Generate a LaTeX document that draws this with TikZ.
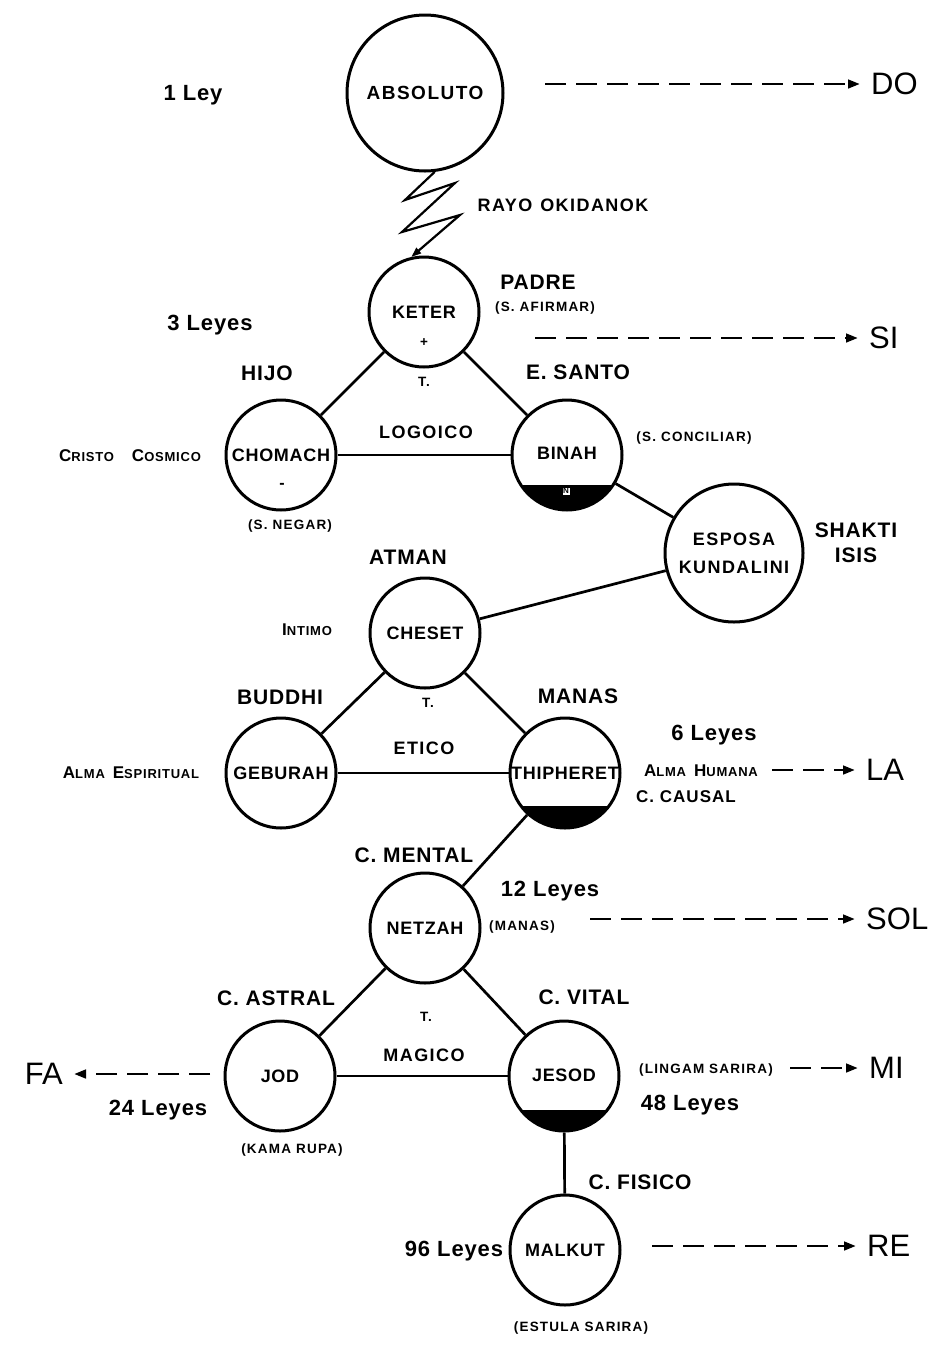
\documentclass[tikz,border=0pt]{standalone}
\usepackage{fontspec}
\setmainfont{Liberation Sans}[LetterSpace=4]
\newfontfamily\notefont{Liberation Sans}
\usetikzlibrary{arrows.meta}
\newcommand\fsc[2]{#1{\fontsize{13}{13}\selectfont #2}}
\begin{document}
\begin{tikzpicture}[x=1pt,y=-1pt,
  sef/.style={circle, draw, line width=3pt, minimum size=110pt, inner sep=0pt,
    font=\bfseries\fontsize{18}{18}\selectfont},
  head/.style={inner sep=0pt, font=\bfseries\fontsize{21}{21}\selectfont},
  leyes/.style={inner sep=0pt, font=\bfseries\fontsize{22}{22}\selectfont},
  mid/.style={inner sep=0pt, font={\bfseries\fontsize{18}{18}\selectfont\addfontfeature{LetterSpace=8}}},
  sm/.style={inner sep=0pt, font={\bfseries\fontsize{13.5}{13.5}\selectfont\addfontfeature{LetterSpace=9}}},
  smc/.style={inner sep=0pt, font={\bfseries\fontsize{17}{17}\selectfont\addfontfeature{LetterSpace=6}}},
  note/.style={inner sep=0pt, font=\notefont\fontsize{31}{31}\selectfont},
  link/.style={line width=2.7pt},
  octave/.style={line width=2.8pt, dash pattern=on 21pt off 10pt, shorten >=11pt,
    -{Triangle[length=12pt,width=8.5pt]}},
]
\useasboundingbox (0,0) rectangle (932,1353);

% black segments
\begin{scope}
  \clip (567,455) circle[radius=55pt];
  \fill (500,485) rectangle (640,520);
\end{scope}
\begin{scope}
  \clip (565,773) circle[radius=55pt];
  \fill (500,806) rectangle (640,840);
\end{scope}
\begin{scope}
  \clip (564,1076) circle[radius=55pt];
  \fill (500,1110) rectangle (640,1140);
\end{scope}

% sefirot
\node[sef, minimum size=156pt, font=\bfseries\fontsize{19}{19}\selectfont\addfontfeature{LetterSpace=8}] (abs) at (425,93) {ABSOLUTO};
\node[sef] (keter) at (424,312) {KETER};
\node[sef] (chomach) at (281,455) {CHOMACH};
\node[sef] (binah) at (567,455) {\raisebox{3pt}{BINAH}};
\node[sef, minimum size=138pt, align=center, font={\bfseries\fontsize{18}{28}\selectfont\addfontfeature{LetterSpace=8}}] (esposa) at (734,553) {ESPOSA\\KUNDALINI};
\node[sef] (cheset) at (425,633) {CHESET};
\node[sef] (geburah) at (281,773) {GEBURAH};
\node[sef] (thiph) at (565,773) {THIPHERET};
\node[sef] (netzah) at (425,928) {NETZAH};
\node[sef] (jod) at (280,1076) {JOD};
\node[sef] (jesod) at (564,1076) {\raisebox{2pt}{JESOD}};
\node[sef] (malkut) at (565,1250) {MALKUT};

\node[fill=white, draw, line width=0.6pt, inner sep=1.2pt, font=\bfseries\fontsize{8}{8}\selectfont] (nmark) at (566,491) {N};
\node[sm] (plus) at (424,343) {+};
\node[sm, font=\bfseries\fontsize{16}{16}\selectfont] (minus) at (282,486) {-};

% connectors
\draw[link] (keter) -- (chomach);
\draw[link] (keter) -- (binah);
\draw[link] (chomach) -- (binah);
\draw[link] (binah) -- (esposa);
\draw[link] (esposa) -- (cheset);
\draw[link] (cheset) -- (geburah);
\draw[link] (cheset) -- (thiph);
\draw[link] (geburah) -- (thiph);
\draw[link] (thiph) -- (netzah);
\draw[link] (netzah) -- (jod);
\draw[link] (netzah) -- (jesod);
\draw[link] (jod) -- (jesod);
\draw[link] (jesod) -- (malkut);

% lightning ray
\draw[line width=2.2pt, line join=miter, -{Triangle[length=10pt,width=7pt]}]
  (abs.-83) -- (405,200) -- (455,183) -- (402,232) -- (460,215) -- (keter.103);

% octaves
\node[note, anchor=west] (do) at (871,84) {DO};
\coordinate (do0) at (545,84);
\draw[octave] (do0) -- (do.west);
\node[note, anchor=west] (si) at (869,338) {SI};
\coordinate (si0) at (535,338);
\draw[octave] (si0) -- (si.west);
\node[note, anchor=west] (la) at (866,770) {LA};
\coordinate (la0) at (772,770);
\draw[octave] (la0) -- (la.west);
\node[note, anchor=west] (sol) at (866,919) {SOL};
\coordinate (sol0) at (590,919);
\draw[octave] (sol0) -- (sol.west);
\node[note, anchor=east] (fa) at (63,1074) {FA};
\coordinate (fa0) at (210,1074);
\draw[octave] (fa0) -- (fa.east);
\node[note, anchor=west] (mi) at (869,1068) {MI};
\coordinate (mi0) at (790,1068);
\draw[octave] (mi0) -- (mi.west);
\node[note, anchor=west] (re) at (867,1246) {RE};
\coordinate (re0) at (652,1246);
\draw[octave] (re0) -- (re.west);

% laws
\node[leyes] (l1) at (193,95) {1\hspace{7pt}Ley};
\node[leyes] (l3) at (210,325) {3\hspace{7pt}Leyes};
\node[leyes] (l6) at (714,735) {6\hspace{7pt}Leyes};
\node[leyes] (l12) at (550,891) {12\hspace{7pt}Leyes};
\node[leyes] (l24) at (158,1110) {24\hspace{7pt}Leyes};
\node[leyes] (l48) at (690,1105) {48\hspace{7pt}Leyes};
\node[leyes] (l96) at (454,1251) {96 Leyes};

% heading labels
\node[head] (padre) at (538,282) {PADRE};
\node[head] (hijo) at (267,373) {HIJO};
\node[head] (esanto) at (578,372) {E. SANTO};
\node[head] (shakti) at (856,530) {SHAKTI};
\node[head] (isis) at (856,555) {ISIS};
\node[head] (atman) at (408,557) {ATMAN};
\node[head] (buddhi) at (280,697) {BUDDHI};
\node[head] (manas) at (578,696) {MANAS};
\node[head] (cmental) at (414,855) {C. MENTAL};
\node[head] (castral) at (276,998) {C. ASTRAL};
\node[head] (cvital) at (584,997) {C. VITAL};
\node[head] (cfisico) at (640,1182) {C. FISICO};

% triangle labels
\node[mid] (rayo) at (563,205) {RAYO\hspace{8pt}OKIDANOK};
\node[mid] (logoico) at (426,432) {LOGOICO};
\node[mid] (etico) at (424,748) {ETICO};
\node[mid] (magico) at (424,1055) {MAGICO};
\node[sm] (t1) at (424,382) {T.};
\node[sm] (t2) at (428,703) {T.};
\node[sm] (t3) at (426,1017) {T.};

% small labels
\node[sm] (safirmar) at (545,308) {(S. AFIRMAR)};
\node[sm] (sconciliar) at (694,438) {(S. CONCILIAR)};
\node[sm] (snegar) at (290,526) {(S. NEGAR)};
\node[sm] (manasp) at (522,927) {(MANAS)};
\node[sm] (lingam) at (706,1070) {(LINGAM\hspace{5pt}SARIRA)};
\node[sm] (kama) at (292,1150) {(KAMA RUPA)};
\node[sm] (estula) at (581,1328) {(ESTULA\hspace{5pt}SARIRA)};
\node[smc] (cristo) at (130,456) {\fsc{C}{RISTO}\hspace{18pt}\fsc{C}{OSMICO}};
\node[smc] (intimo) at (307,630) {\fsc{I}{NTIMO}};
\node[smc] (almaesp) at (131,773) {\fsc{A}{LMA}\hspace{8pt}\fsc{E}{SPIRITUAL}};
\node[smc] (almahum) at (701,771) {\fsc{A}{LMA}\hspace{8pt}\fsc{H}{UMANA}};
\node[smc] (causal) at (686,797) {C. CAUSAL};
\end{tikzpicture}
\end{document}
